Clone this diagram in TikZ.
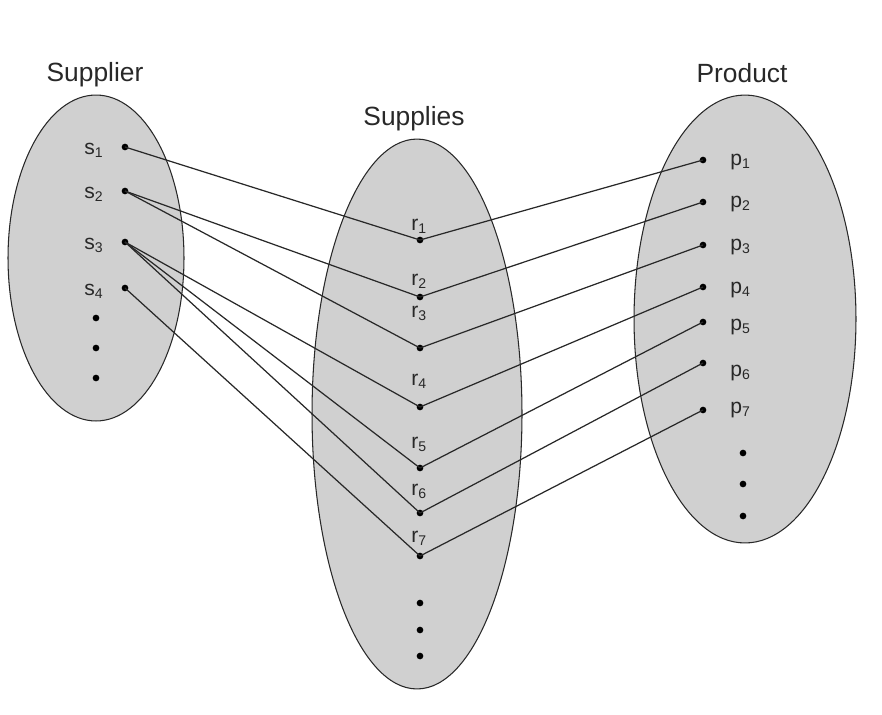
\documentclass[tikz,border=0pt]{standalone}
\usepackage{fontspec}
\setmainfont{Liberation Sans}
\usepackage{tikz}

\definecolor{setgray}{RGB}{208,208,208}
\definecolor{inkgray}{RGB}{40,40,40}

\begin{document}
\begin{tikzpicture}[x=0.02cm,y=-0.02cm,
	dot/.style={circle,fill=black,inner sep=0pt,minimum size=3.8pt},
	setshape/.style={fill=setgray,draw=inkgray,line width=0.6pt},
	link/.style={draw=inkgray,line width=0.7pt},
	title/.style={font=\fontsize{15}{18}\selectfont,text=inkgray},
	elem/.style={font=\fontsize{12}{14}\selectfont,text=inkgray,inner sep=0pt}]
	\useasboundingbox (0,0) rectangle (882,714);

	% the three sets
	\filldraw[setshape] (96,258) ellipse [x radius=1.76cm, y radius=3.26cm];
	\filldraw[setshape] (417,414) ellipse [x radius=2.1cm, y radius=5.5cm];
	\filldraw[setshape] (745,319) ellipse [x radius=2.22cm, y radius=4.48cm];

	\node[title] (supplier) at (95,75) {Supplier};
	\node[title] (supplies) at (414,119) {Supplies};
	\node[title] (product) at (742,73) {Product};

	% elements
	\foreach \i/\y in {1/147,2/191,3/242,4/288}
		\node[dot] (s\i) at (125,\y) {};
	\foreach \i/\y in {1/240,2/297,3/348,4/407,5/468,6/513,7/556}
		\node[dot] (r\i) at (420,\y) {};
	\foreach \i/\y in {1/160,2/202,3/245,4/287,5/322,6/363,7/410}
		\node[dot] (p\i) at (703,\y) {};
	\foreach \k/\y in {1/318,2/348,3/378}
		\node[dot] (sdots\k) at (96,\y) {};
	\foreach \k/\y in {1/603,2/630,3/656}
		\node[dot] (rdots\k) at (420,\y) {};
	\foreach \k/\y in {1/453,2/484,3/516}
		\node[dot] (pdots\k) at (743,\y) {};

	% labels
	\foreach \i/\y in {1/154,2/198,3/249,4/295}
		\node[elem,anchor=base east] (ls\i) at (104,\y) {s\textsubscript{\i}};
	\foreach \i/\y in {1/230,2/285,3/317,4/385,5/448,6/495,7/542}
		\node[elem,anchor=base west] (lr\i) at (411,\y) {r\textsubscript{\i}};
	\foreach \i/\y in {1/165,2/207,3/250,4/293,5/330,6/376,7/413}
		\node[elem,anchor=base west] (lp\i) at (730,\y) {p\textsubscript{\i}};

	% connectors
	\foreach \a/\b in {s1/r1,s2/r2,s2/r3,s3/r4,s3/r5,s3/r6,s4/r7}
		\draw[link] (\a.center) -- (\b.center);
	\foreach \i in {1,...,7}
		\draw[link] (r\i.center) -- (p\i.center);
\end{tikzpicture}
\end{document}
